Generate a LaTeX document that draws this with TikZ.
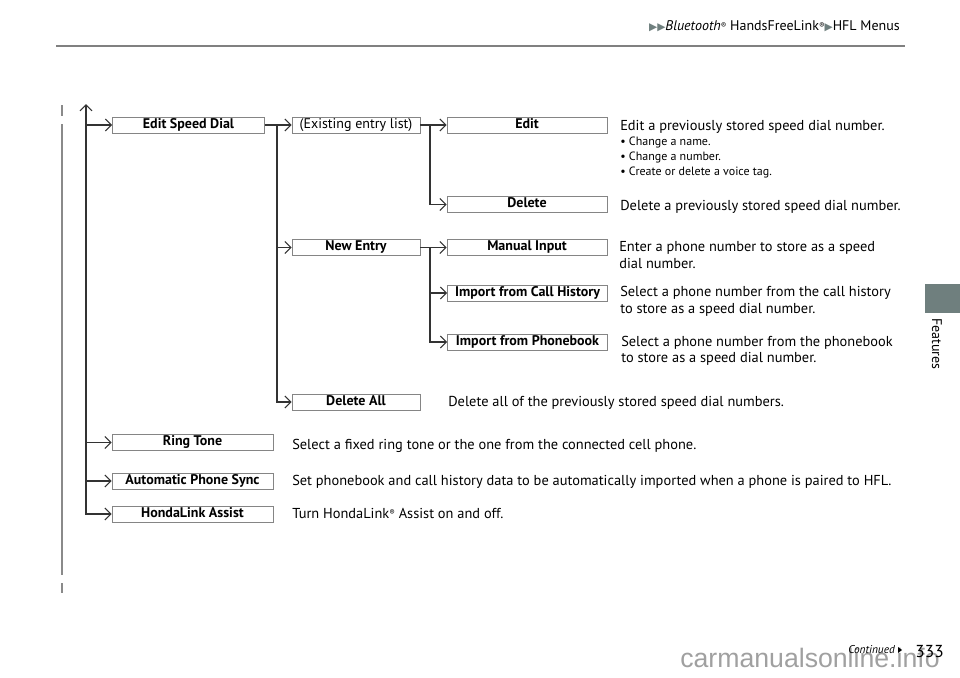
\documentclass[tikz,border=0pt]{standalone}
\usepackage{fontspec}
\setmainfont{PT Sans}
\newfontfamily\dejavu{DejaVu Sans}
\newfontfamily\wmfont{Liberation Sans}
\usetikzlibrary{arrows.meta}
\definecolor{boxgray}{HTML}{858585}
\definecolor{linegray}{HTML}{333333}
\definecolor{tabgray}{HTML}{6F7F7E}
\definecolor{railgray}{HTML}{8A8A8A}
\definecolor{wmgray}{HTML}{A0A0A0}
\newcommand{\regmark}{\raisebox{0.35ex}{\fontsize{6}{6}\selectfont ®}}
\begin{document}
\begin{tikzpicture}[x=0.75pt,y=-0.75pt,
  menubox/.style={draw=boxgray,line width=0.7pt,fill=white,inner sep=0pt,minimum height=12pt,
    text height=7.4pt,text depth=2.2pt,font=\fontsize{10.5}{11}\selectfont\bfseries},
  wa/.style={menubox,minimum width=114pt},
  wb/.style={menubox,minimum width=120.75pt},
  wc/.style={menubox,minimum width=96pt},
  wd/.style={menubox,minimum width=120pt},
  desc/.style={anchor=base west,inner sep=0pt,font=\fontsize{10.8}{12}\selectfont},
  smalltext/.style={anchor=base west,inner sep=0pt,font=\fontsize{9}{10}\selectfont},
  conn/.style={draw=linegray,line width=0.9pt},
  arr/.style={conn,-{Straight Barb[length=4.5pt,width=9pt,line width=0.8pt]}},
]
\useasboundingbox (0,0) rectangle (960,678);

% watermark
\node[anchor=base west,inner sep=0pt,text=wmgray,font=\wmfont\fontsize{20}{22}\selectfont] (wm) at (680,667) {carmanualsonline.info};

% header
\node[anchor=base east,inner sep=0pt,font=\fontsize{10.5}{11}\selectfont] (hdr) at (900,31)
  {{\dejavu\color{tabgray}\fontsize{8}{8}\selectfont ▶▶}\textit{Bluetooth}\regmark\ HandsFreeLink\regmark{\dejavu\color{tabgray}\fontsize{8}{8}\selectfont ▶}HFL Menus};
\draw[gray,line width=1.1pt] (56,46) -- (905,46);

% side tab
\fill[tabgray] (925,284) rectangle (960,313);
\node[rotate=-90,inner sep=0pt,font=\fontsize{10.5}{12}\selectfont] (feat) at (937,344) {Features};

% left rails
\draw[railgray,line width=1.5pt] (62,105) -- (62,116);
\draw[railgray,line width=1.5pt] (62,124) -- (62,575);
\draw[railgray,line width=1.5pt] (62,583) -- (62,593);

% boxes
\node[wa] (esd) at (188.5,125) {Edit Speed Dial};
\node[wc] (ex)  at (356,125) {\mdseries (Existing entry list)};
\node[wd] (ed)  at (527,125) {Edit};
\node[wd] (del) at (527,204.5) {Delete};
\node[wc] (ne)  at (356,247.5) {New Entry};
\node[wd] (mi)  at (527,247.5) {Manual Input};
\node[wd] (ich) at (527.5,293) {Import from Call History};
\node[wd] (ipb) at (527.5,342) {Import from Phonebook};
\node[wc] (da)  at (356,402) {Delete All};
\node[wb] (rt)  at (192.5,442.5) {Ring Tone};
\node[wb] (aps) at (192.5,481) {Automatic Phone Sync};
\node[wb] (hla) at (192.5,514) {HondaLink Assist};

% connectors
\coordinate (top) at (86,104);
\draw[conn,{Straight Barb[length=4.5pt,width=9pt,line width=0.8pt]}-{Straight Barb[length=4.5pt,width=9pt,line width=0.8pt]}] (top) |- (hla.west);
\draw[arr] (top |- esd.west) -- (esd.west);
\draw[arr] (top |- rt.west) -- (rt.west);
\draw[arr] (top |- aps.west) -- (aps.west);

\coordinate (v2) at (277,125);
\draw[arr] (esd.east) -- (ex.west);
\draw[arr] (v2) |- (da.west);
\draw[arr] (v2 |- ne.west) -- (ne.west);

\coordinate (v3a) at (430,125);
\draw[arr] (ex.east) -- (ed.west);
\draw[arr] (v3a) |- (del.west);

\coordinate (v3b) at (430,247.5);
\draw[arr] (ne.east) -- (mi.west);
\draw[arr] (v3b) |- (ipb.west);
\draw[arr] (v3b |- ich.west) -- (ich.west);

% descriptions
\node[desc] (d1) at (620,130) {Edit a previously stored speed dial number.};
\node[smalltext] (b1) at (620,145.5) {\textbullet\ Change a name.};
\node[smalltext] (b2) at (620,160.5) {\textbullet\ Change a number.};
\node[smalltext] (b3) at (620,175.5) {\textbullet\ Create or delete a voice tag.};
\node[desc] (d2) at (620,210) {Delete a previously stored speed dial number.};
\node[desc] (d3a) at (619,251) {Enter a phone number to store as a speed};
\node[desc] (d3b) at (619,268) {dial number.};
\node[desc] (d4a) at (620,296) {Select a phone number from the call history};
\node[desc] (d4b) at (620,313) {to store as a speed dial number.};
\node[desc] (d5a) at (621,346) {Select a phone number from the phonebook};
\node[desc] (d5b) at (621,362) {to store as a speed dial number.};
\node[desc] (d6) at (448,406) {Delete all of the previously stored speed dial numbers.};
\node[desc] (d7) at (292,449) {Select a fixed ring tone or the one from the connected cell phone.};
\node[desc] (d8) at (292,485) {Set phonebook and call history data to be automatically imported when a phone is paired to HFL.};
\node[desc] (d9) at (292,518) {Turn HondaLink\regmark\ Assist on and off.};

% footer
\node[anchor=base west,inner sep=0pt,font=\fontsize{8.5}{10}\selectfont\itshape] (cont) at (848,653) {Continued};
\fill (cont.base east) ++(3,-6) -- ++(0,6) -- ++(4,-3) -- cycle;
\node[anchor=base east,inner sep=0pt,font=\fontsize{13}{15}\selectfont] (pg) at (944,657) {333};
\end{tikzpicture}
\end{document}
